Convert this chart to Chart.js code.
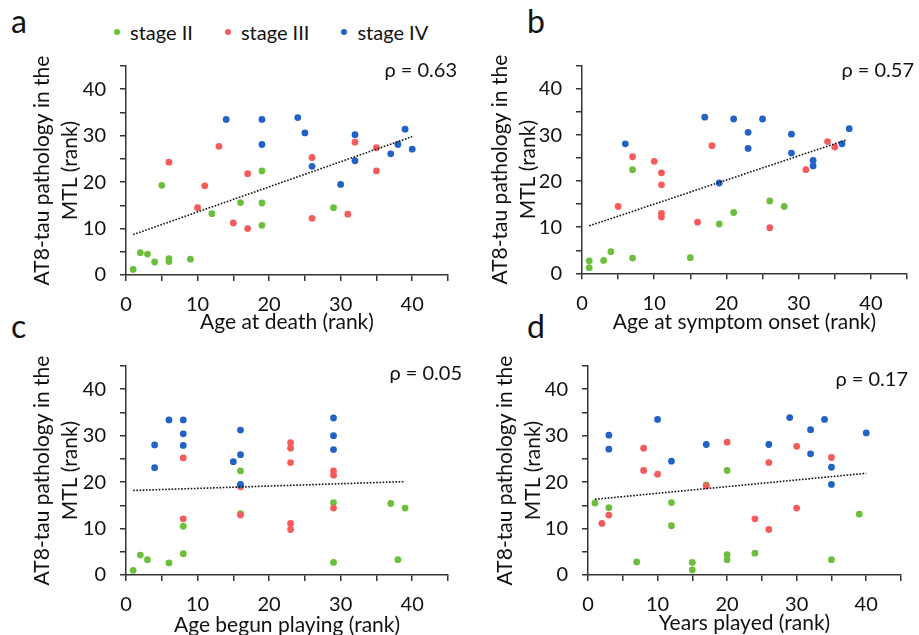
<!DOCTYPE html>
<html><head><meta charset="utf-8">
<script src="https://cdn.jsdelivr.net/npm/chart.js@4/dist/chart.umd.min.js"></script>
<style>
html,body{margin:0;padding:0;background:#fff;width:919px;height:635px;overflow:hidden;font-family:Lato,sans-serif;color:#111;}
canvas{position:absolute;}
.letter{position:absolute;font-size:32px;line-height:1;}
.rho{position:absolute;font-size:20px;line-height:1;white-space:nowrap;text-align:right;}
#legend{position:absolute;left:114px;top:22px;font-size:20px;line-height:1;display:flex;}
#legend .item{display:flex;align-items:center;margin-right:32px;white-space:nowrap;}
#legend .dot{width:6px;height:6px;border-radius:50%;margin-right:10px;}
</style>
</head><body>
<div class="letter" style="left:11px;top:5px">a</div>
<div class="letter" style="left:527px;top:5px">b</div>
<div class="letter" style="left:11px;top:310px">c</div>
<div class="letter" style="left:527px;top:310px">d</div>
<div id="legend"></div>
<canvas id="cA" width="460" height="300" style="left:0;top:40px"></canvas>
<canvas id="cB" width="459" height="300" style="left:460px;top:40px"></canvas>
<canvas id="cC" width="460" height="300" style="left:0;top:340px"></canvas>
<canvas id="cD" width="459" height="300" style="left:460px;top:340px"></canvas>
<div class="rho" id="rA" style="right:462px;top:59px"></div>
<div class="rho" id="rB" style="right:5px;top:59px"></div>
<div class="rho" id="rC" style="right:457px;top:362px"></div>
<div class="rho" id="rD" style="right:11px;top:368px"></div>
<script>
// ---- data ----
const stageNames = ['stage II', 'stage III', 'stage IV'];
const yAxisTitle = ['AT8-tau pathology in the', 'MTL (rank)'];
const xTitles = ['Age at death (rank)', 'Age at symptom onset (rank)', 'Age begun playing (rank)', 'Years played (rank)'];
const rhoValues = ['0.63', '0.57', '0.05', '0.17'];

// panel a: age at death
const deathII  = [[1,1.2],[2,4.8],[3,4.5],[4,2.8],[5,19.3],[6,3.5],[6,2.9],[9,3.4],[12,13.2],[16,15.6],[19,22.4],[19,15.5],[19,10.7],[29,14.5]];
const deathIII = [[6,24.3],[10,14.5],[11,19.2],[13,27.7],[15,11.2],[17,21.8],[17,10.0],[26,25.3],[26,12.2],[31,13.1],[32,28.6],[35,27.4],[35,22.4]];
const deathIV  = [[14,33.5],[19,33.5],[19,28.1],[24,33.9],[25,30.6],[26,23.4],[30,19.5],[32,30.2],[32,24.6],[37,26.1],[38,28.1],[39,31.4],[40,27.1]];
const deathTrend = [[1,8.7],[40,29.8]];

// panel b: age at symptom onset
const onsetII  = [[1,2.7],[1,1.2],[3,2.8],[4,4.7],[7,3.3],[7,22.5],[15,3.4],[19,10.7],[21,13.2],[26,15.7],[28,14.5]];
const onsetIII = [[5,14.5],[7,25.3],[10,24.3],[11,21.8],[11,19.2],[11,13.0],[11,12.2],[16,11.1],[18,27.7],[26,9.9],[31,22.5],[34,28.6],[35,27.4]];
const onsetIV  = [[6,28.1],[17,33.9],[19,19.6],[21,33.5],[23,30.6],[23,27.1],[25,33.5],[29,30.2],[29,26.1],[32,24.5],[32,23.3],[36,28.1],[37,31.4]];
const onsetTrend = [[1,10.3],[36.5,28.9]];

// panel c: age begun playing
const begunII  = [[1,1.0],[2,4.3],[3,3.3],[6,2.6],[8,10.5],[8,4.6],[16,22.4],[16,13.2],[29,15.6],[29,2.7],[37,15.4],[38,3.3],[39,14.4]];
const begunIII = [[8,25.2],[8,12.1],[16,19.0],[16,12.9],[23,28.5],[23,27.3],[23,24.2],[23,11.1],[23,9.8],[29,22.4],[29,21.5],[29,14.4]];
const begunIV  = [[4,28.0],[4,23.1],[6,33.4],[8,33.4],[8,30.4],[8,27.9],[15,24.4],[16,31.2],[16,25.9],[16,19.5],[29,33.8],[29,30.0],[29,27.0]];
const begunTrend = [[1,18.2],[39,20.1]];

// panel d: years played
const yearsII  = [[1,15.5],[3,14.5],[7,2.8],[12,15.6],[12,10.6],[15,2.7],[15,1.1],[17,19.4],[20,22.5],[20,4.4],[20,3.3],[24,4.7],[35,3.3],[39,13.1]];
const yearsIII = [[2,11.1],[3,12.9],[8,27.3],[8,22.5],[10,21.7],[17,19.2],[20,28.6],[24,12.1],[26,24.2],[26,9.8],[30,27.7],[30,14.4],[35,25.3]];
const yearsIV  = [[3,30.1],[3,27.1],[10,33.5],[12,24.5],[17,28.1],[26,28.1],[29,33.9],[32,31.3],[32,26.1],[34,33.5],[35,23.2],[35,19.5],[40,30.6]];
const yearsTrend = [[1,16.3],[40,21.9]];

// ---- styles ----
const stageColors = ['#6cbf3c', '#f45b5b', '#2262c6'];
const FONT = 'Lato';
const TXT = '#111';
const AX = '#333';

// legend
const lg = document.getElementById('legend');
stageNames.forEach((n, i) => {
  const it = document.createElement('div'); it.className = 'item';
  const d = document.createElement('span'); d.className = 'dot'; d.style.background = stageColors[i];
  const t = document.createElement('span'); t.textContent = n;
  it.appendChild(d); it.appendChild(t); lg.appendChild(it);
});
['rA','rB','rC','rD'].forEach((id, i) => { document.getElementById(id).textContent = '\u03c1 = ' + rhoValues[i]; });

const toPts = a => a.map(p => ({x: p[0], y: p[1]}));

function panel(id, ii, iii, iv, trend, xLabel, g) {
  new Chart(document.getElementById(id), {
    type: 'scatter',
    data: {datasets: [
      {type: 'line', data: toPts(trend), borderColor: '#111', borderWidth: 1.6, borderDash: [1.6, 1.6],
       pointRadius: 0, fill: false, order: 0},
      {label: stageNames[2], data: toPts(iv), backgroundColor: stageColors[2], borderWidth: 0, pointRadius: 3.4, order: 1},
      {label: stageNames[1], data: toPts(iii), backgroundColor: stageColors[1], borderWidth: 0, pointRadius: 3.4, order: 2},
      {label: stageNames[0], data: toPts(ii), backgroundColor: stageColors[0], borderWidth: 0, pointRadius: 3.4, order: 3}
    ]},
    options: {
      responsive: false, animation: false, devicePixelRatio: 1,
      layout: {padding: {left: 0, top: g.top, right: g.right, bottom: g.bottom}},
      plugins: {legend: {display: false}, tooltip: {enabled: false}},
      scales: {
        x: {
          type: 'linear', min: 0, max: 45,
          afterFit: s => { s.height = g.xh; },
          ticks: {stepSize: 5, autoSkip: false, maxRotation: 0, padding: 12, color: TXT,
                  font: {size: 20, family: FONT}, callback: v => (v % 10 === 0 ? String(v) : '')},
          grid: {drawOnChartArea: false, drawTicks: true, tickLength: 6, color: AX, lineWidth: 1.5},
          border: {display: true, color: AX, width: 1.5},
          title: {display: true, text: xLabel, color: TXT, font: {size: 21, family: FONT, lineHeight: 1.2},
                  padding: {top: 0, bottom: 0}}
        },
        y: {
          type: 'linear', min: 0, max: 45,
          afterFit: s => { s.width = g.yw; },
          ticks: {stepSize: 5, autoSkip: false, padding: 14, color: TXT,
                  font: {size: 20, family: FONT}, callback: v => (v % 10 === 0 ? String(v) : '')},
          grid: {drawOnChartArea: false, drawTicks: true, tickLength: 6, color: AX, lineWidth: 1.5},
          border: {display: true, color: AX, width: 1.5},
          title: {display: true, text: yAxisTitle, color: TXT, font: {size: 21, family: FONT, lineHeight: 1.35},
                  padding: {top: g.tp, bottom: 0}}
        }
      }
    }
  });
}

panel('cA', deathII, deathIII, deathIV, deathTrend, xTitles[0], {top: 12, right: 11, bottom: 5, xh: 60, yw: 126, tp: 28});
panel('cB', onsetII, onsetIII, onsetIV, onsetTrend, xTitles[1], {top: 11, right: 11, bottom: 5, xh: 61.7, yw: 122, tp: 26});
panel('cC', begunII, begunIII, begunIV, begunTrend, xTitles[2], {top: 13, right: 7, bottom: 2, xh: 63, yw: 126, tp: 28});
panel('cD', yearsII, yearsIII, yearsIV, yearsTrend, xTitles[3], {top: 22, right: 18, bottom: 4.5, xh: 60.5, yw: 128, tp: 31});
</script>
</body></html>
